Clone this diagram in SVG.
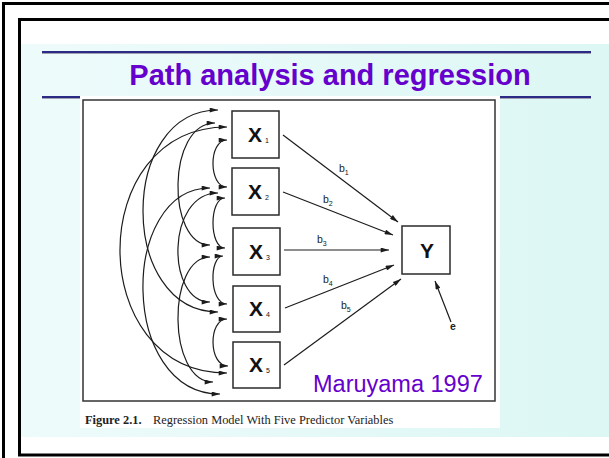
<svg xmlns="http://www.w3.org/2000/svg" width="609" height="458" viewBox="0 0 609 458">
<style>
.frame{fill:none;stroke:#000;stroke-width:3}
.rule{stroke:#2b2b85;stroke-width:2}
.shadow{stroke:#a0a0b0;stroke-width:1}
.title{font-family:"Liberation Sans",Arial,sans-serif;font-weight:bold;font-size:29px;fill:#6600cc}
.credit{font-family:"Liberation Sans",Arial,sans-serif;font-size:23.5px;fill:#6600cc}
.box{fill:#fff;stroke:#2a2a2a;stroke-width:1.5}
.var{font-family:"Liberation Sans",Arial,sans-serif;font-weight:bold;font-size:21px;fill:#111}
.sub{font-family:"Liberation Sans",Arial,sans-serif;font-size:7px;fill:#111}
.lbl{font-family:"Liberation Sans",Arial,sans-serif;font-size:10.5px;fill:#222}
.cap{font-family:"Liberation Serif","Times New Roman",serif;font-size:12.4px;fill:#222}
.con{fill:none;stroke:#1c1c1c;stroke-width:1.2}
</style>
<defs>
<linearGradient id="bg" x1="0" y1="0" x2="1" y2="0">
<stop offset="0" stop-color="#eefbfb"/>
<stop offset="1" stop-color="#dcf7f4"/>
</linearGradient>
<marker id="ah" viewBox="0 0 10 6" refX="10" refY="3" markerWidth="10" markerHeight="5" markerUnits="userSpaceOnUse" orient="auto-start-reverse">
<path d="M0,0 L10,3 L0,6 z" fill="#1c1c1c"/>
</marker>
</defs>
<rect width="609" height="458" fill="#fff"/>
<rect x="21" y="44" width="588" height="393" fill="url(#bg)"/>
<rect class="frame" x="3.5" y="3.5" width="620" height="470"/>
<rect class="frame" x="19.5" y="19.5" width="600" height="435.5"/>
<line class="shadow" x1="42" y1="53.5" x2="591" y2="53.5"/>
<line class="rule" x1="42" y1="52" x2="591" y2="52"/>
<line class="shadow" x1="42" y1="98.5" x2="591" y2="98.5"/>
<line class="rule" x1="42" y1="97" x2="591" y2="97"/>
<text class="title" x="330" y="85" text-anchor="middle">Path analysis and regression</text>
<rect x="80" y="96" width="420" height="332" fill="#fff"/>
<rect x="83" y="100" width="412" height="301" fill="none" stroke="#333" stroke-width="1.5"/>
<text class="cap" x="85" y="424"><tspan font-weight="bold">Figure 2.1.</tspan><tspan x="153">Regression Model With Five Predictor Variables</tspan></text>
<g id="connectors">
<path class="con" marker-start="url(#ah)" marker-end="url(#ah)" d="M227,140 C208.3,140 208.3,187 227,187"/>
<path class="con" marker-start="url(#ah)" marker-end="url(#ah)" d="M225,198 C209,198 209,248 225,248"/>
<path class="con" marker-start="url(#ah)" marker-end="url(#ah)" d="M223,256 C209,256 209,304 227,304"/>
<path class="con" marker-start="url(#ah)" marker-end="url(#ah)" d="M227,319 C208.2,319 208.2,366 228,366"/>
<path class="con" marker-start="url(#ah)" marker-end="url(#ah)" d="M215,123 C166.5,123 166.5,245 210,245"/>
<path class="con" marker-start="url(#ah)" marker-end="url(#ah)" d="M218,193 C166,193 166,302 210,302"/>
<path class="con" marker-start="url(#ah)" marker-end="url(#ah)" d="M210,257 C166.8,257 166.8,382 213,382"/>
<path class="con" marker-start="url(#ah)" marker-end="url(#ah)" d="M218,110 C118,110 118,312 218,312"/>
<path class="con" marker-start="url(#ah)" marker-end="url(#ah)" d="M210,188 C119,188 119,394 220,394"/>
<path class="con" marker-start="url(#ah)" marker-end="url(#ah)" d="M227,127 C84.3,127 84.3,373 227,373"/>
<line class="con" marker-end="url(#ah)" x1="283" y1="135" x2="398" y2="222"/>
<line class="con" marker-end="url(#ah)" x1="283" y1="192" x2="393" y2="235"/>
<line class="con" marker-end="url(#ah)" x1="284" y1="250" x2="389" y2="250"/>
<line class="con" marker-end="url(#ah)" x1="285" y1="308" x2="394" y2="265"/>
<line class="con" marker-end="url(#ah)" x1="284" y1="365" x2="401" y2="279"/>
<line class="con" marker-end="url(#ah)" x1="451" y1="322" x2="435" y2="281"/>
<text class="lbl" x="339" y="172">b<tspan class="sub" dy="3">1</tspan></text>
<text class="lbl" x="323" y="203">b<tspan class="sub" dy="3">2</tspan></text>
<text class="lbl" x="317" y="242.5">b<tspan class="sub" dy="3">3</tspan></text>
<text class="lbl" x="323" y="283">b<tspan class="sub" dy="3">4</tspan></text>
<text class="lbl" x="341" y="309">b<tspan class="sub" dy="3">5</tspan></text>
<text class="lbl" x="453" y="330" text-anchor="middle" font-weight="bold" font-size="9.5">e</text>
</g>
<g id="X1"><rect class="box" x="232" y="111" width="47" height="47"/><text class="var" x="255" y="142" text-anchor="middle">X</text><text class="sub" x="265" y="143">1</text></g>
<g id="X2"><rect class="box" x="232" y="168" width="47" height="47"/><text class="var" x="255" y="199" text-anchor="middle">X</text><text class="sub" x="265" y="200">2</text></g>
<g id="X3"><rect class="box" x="233" y="228" width="47" height="47"/><text class="var" x="256" y="259" text-anchor="middle">X</text><text class="sub" x="266" y="260">3</text></g>
<g id="X4"><rect class="box" x="233" y="286" width="47" height="46"/><text class="var" x="256" y="316" text-anchor="middle">X</text><text class="sub" x="266" y="317">4</text></g>
<g id="X5"><rect class="box" x="233" y="342" width="47" height="46"/><text class="var" x="256" y="372" text-anchor="middle">X</text><text class="sub" x="266" y="373">5</text></g>
<g id="Y"><rect class="box" x="402" y="226" width="48" height="48"/><text class="var" x="427" y="258" text-anchor="middle" font-size="22">Y</text></g>
<text class="credit" x="313" y="392">Maruyama 1997</text>
</svg>
